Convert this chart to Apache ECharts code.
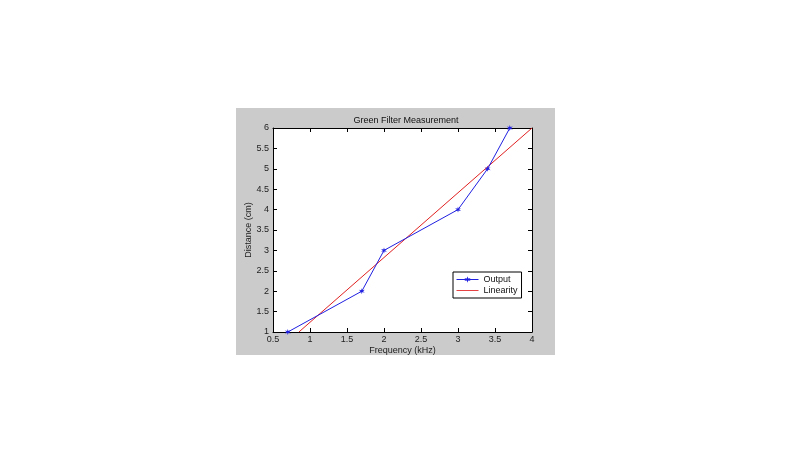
<!DOCTYPE html>
<html><head><meta charset="utf-8">
<script src="https://cdn.jsdelivr.net/npm/echarts@6/dist/echarts.min.js"></script>
<style>html,body{margin:0;padding:0;background:#fff}#c{width:800px;height:472px}</style>
</head><body><div id="c"></div>
<script>
const titleText = 'Green Filter Measurement';
const xLabel = 'Frequency (kHz)';
const yLabel = 'Distance (cm)';
const outputX = [0.7, 1.7, 2.0, 3.0, 3.4, 3.7];
const outputY = [1, 2, 3, 4, 5, 6];
const linearityX = [0.85, 4.0];
const linearityY = [1.0, 6.0];
const xTicks = [0.5, 1, 1.5, 2, 2.5, 3, 3.5, 4];
const yTicks = [1, 1.5, 2, 2.5, 3, 3.5, 4, 4.5, 5, 5.5, 6];

const font = 'Liberation Sans, Arial, sans-serif';
const chart = echarts.init(document.getElementById('c'));
const star = 'path://M0,-5L1,-1.5L4.7,-2.5L2,0L4.7,2.5L1,1.5L0,5L-1,1.5L-4.7,2.5L-2,0L-4.7,-2.5L-1,-1.5Z';
const fmt = v => String(v);
const baseAxis = {
  interval: 0.5,
  axisLine: {show: true, onZero: false, lineStyle: {color: '#000', width: 1}},
  axisTick: {show: true, inside: true, length: 4, lineStyle: {color: '#000'}},
  splitLine: {show: false}
};
function xa(pos, show) {
  return Object.assign({}, baseAxis, {type: 'value', position: pos, min: xTicks[0], max: xTicks[xTicks.length-1],
    axisLabel: {show: show, color: '#222', fontSize: 9, fontFamily: font, margin: 3, formatter: fmt},
    name: show ? xLabel : '', nameLocation: 'middle', nameGap: 14,
    nameTextStyle: {color: '#222', fontSize: 9, fontFamily: font}});
}
function ya(pos, show) {
  return Object.assign({}, baseAxis, {type: 'value', position: pos, min: yTicks[0], max: yTicks[yTicks.length-1],
    axisLabel: {show: show, color: '#222', fontSize: 9, fontFamily: font, margin: 4, formatter: fmt},
    name: show ? yLabel : '', nameLocation: 'middle', nameGap: 18,
    nameTextStyle: {color: '#222', fontSize: 9, fontFamily: font}});
}
chart.setOption({
  animation: false,
  backgroundColor: '#fff',
  graphic: [{type: 'rect', z: -10, shape: {x: 236, y: 108, width: 319, height: 247}, style: {fill: '#cbcbcb'}},
            {type: 'rect', z: -9, shape: {x: 273, y: 128, width: 259, height: 204}, style: {fill: '#fff'}}],
  title: {text: titleText, left: 401, top: 111, textAlign: 'center',
    textStyle: {fontSize: 9, fontWeight: 'normal', color: '#111', fontFamily: font}},
  grid: {left: 273, top: 128, width: 259, height: 204, containLabel: false},
  xAxis: [xa('bottom', true), xa('top', false)],
  yAxis: [ya('left', true), ya('right', false)],
  legend: {
    left: 453, top: 272, orient: 'vertical', itemGap: 2, itemWidth: 22, itemHeight: 8,
    padding: [3, 4, 3, 3], backgroundColor: '#fff', borderColor: '#000', borderWidth: 1,
    textStyle: {fontSize: 9, fontFamily: font, color: '#111'},
    data: [{name: 'Output', lineStyle: {width: 1}},
           {name: 'Linearity', icon: 'path://M0,0L26,0L26,1L0,1Z'}]
  },
  series: [
    {name: 'Output', type: 'line', data: outputX.map((x, i) => [x, outputY[i]]),
     symbol: star, symbolSize: 6, showSymbol: true,
     lineStyle: {color: '#2020e0', width: 1}, itemStyle: {color: '#2020e0'}, z: 3},
    {name: 'Linearity', type: 'line', data: linearityX.map((x, i) => [x, linearityY[i]]),
     symbol: 'none', lineStyle: {color: '#e02020', width: 1}, itemStyle: {color: '#e02020'}, z: 2}
  ]
});
</script></body></html>
